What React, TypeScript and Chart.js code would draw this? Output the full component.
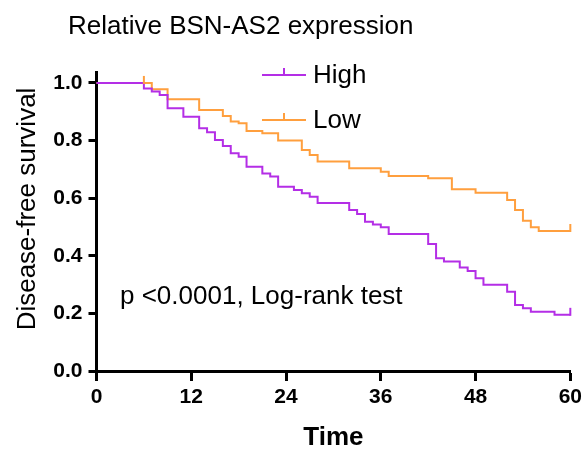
import { useEffect, useRef } from 'react';
import { Chart, registerables } from 'chart.js';

Chart.register(...registerables);

const chartTitle = 'Relative BSN-AS2 expression';
const xTitle = 'Time';
const yTitle = 'Disease-free survival';
const annotation = 'p <0.0001, Log-rank test';
const seriesNames = ['High', 'Low'];
const xTicks = [0, 12, 24, 36, 48, 60];
const yTicks = [0, 0.2, 0.4, 0.6, 0.8, 1.0];

const highTimes = [0, 6, 7, 8, 9, 11, 13, 14, 15, 16, 17, 18, 19, 21, 22, 23, 25, 26, 27, 28, 32, 33, 34, 35, 36, 37, 42, 43, 44, 46, 47, 48, 49, 52, 53, 54, 55, 58, 60];
const highSurv = [1, 0.981, 0.97, 0.958, 0.912, 0.883, 0.843, 0.829, 0.802, 0.781, 0.756, 0.744, 0.709, 0.686, 0.675, 0.64, 0.628, 0.617, 0.605, 0.583, 0.559, 0.545, 0.518, 0.509, 0.499, 0.476, 0.441, 0.391, 0.38, 0.359, 0.347, 0.322, 0.299, 0.275, 0.229, 0.218, 0.206, 0.195, 0.195];
const highCensor = [60];

const lowTimes = [0, 7, 9, 13, 16, 17, 18, 19, 21, 23, 26, 27, 28, 32, 36, 37, 42, 45, 48, 52, 53, 54, 55, 56, 60];
const lowSurv = [1, 0.978, 0.943, 0.906, 0.885, 0.866, 0.86, 0.833, 0.825, 0.8, 0.767, 0.75, 0.727, 0.704, 0.692, 0.677, 0.669, 0.631, 0.619, 0.594, 0.559, 0.522, 0.499, 0.486, 0.486];
const lowCensor = [6, 60];

const highColor = '#B42EE6';
const lowColor = '#FF9F3E';
const FONT = "'Liberation Sans', Arial, sans-serif";

function survAt(times: number[], surv: number[], t: number) {
  let v = surv[0];
  for (let i = 0; i < times.length; i++) {
    if (times[i] <= t) v = surv[i];
  }
  return v;
}

const overlayPlugin = {
  id: 'overlay',
  afterDatasetsDraw(chart: any) {
    const ctx = chart.ctx as CanvasRenderingContext2D;
    const xs = chart.scales.x;
    const ys = chart.scales.y;
    ctx.save();
    const drawCensor = (times: number[], surv: number[], cens: number[], color: string) => {
      ctx.strokeStyle = color;
      ctx.lineWidth = 2;
      cens.forEach((t) => {
        const px = xs.getPixelForValue(t);
        const py = ys.getPixelForValue(survAt(times, surv, t));
        ctx.beginPath();
        ctx.moveTo(px, py + 1);
        ctx.lineTo(px, py - 7);
        ctx.stroke();
      });
    };
    drawCensor(highTimes, highSurv, highCensor, highColor);
    drawCensor(lowTimes, lowSurv, lowCensor, lowColor);

    const legendItems = [
      { name: seriesNames[0], color: highColor, y: 75 },
      { name: seriesNames[1], color: lowColor, y: 120 },
    ];
    legendItems.forEach((it) => {
      ctx.strokeStyle = it.color;
      ctx.lineWidth = 2;
      ctx.beginPath();
      ctx.moveTo(262, it.y);
      ctx.lineTo(306, it.y);
      ctx.moveTo(284, it.y);
      ctx.lineTo(284, it.y - 7);
      ctx.stroke();
      ctx.fillStyle = '#000';
      ctx.font = `26px ${FONT}`;
      ctx.textAlign = 'left';
      ctx.textBaseline = 'middle';
      ctx.fillText(it.name, 313, it.y + 1);
    });

    ctx.fillStyle = '#000';
    ctx.font = `26px ${FONT}`;
    ctx.textAlign = 'left';
    ctx.textBaseline = 'middle';
    ctx.fillText(annotation, 120, 297);

    ctx.fillText(chartTitle, 68, 27);

    ctx.font = `bold 26px ${FONT}`;
    ctx.textAlign = 'center';
    ctx.fillText(xTitle, (chart.chartArea.left + chart.chartArea.right) / 2, 438);

    ctx.font = `26px ${FONT}`;
    ctx.translate(28, 209);
    ctx.rotate(-Math.PI / 2);
    ctx.fillText(yTitle, 0, 0);
    ctx.restore();
  },
};

export default function App() {
  const ref = useRef<HTMLCanvasElement | null>(null);
  useEffect(() => {
    if (!ref.current) return;
    const chart = new Chart(ref.current, {
      type: 'line',
      data: {
        datasets: [
          {
            label: seriesNames[0],
            data: highTimes.map((t, i) => ({ x: t, y: highSurv[i] })),
            borderColor: highColor,
            borderWidth: 2,
            stepped: 'before',
            pointRadius: 0,
            fill: false,
            clip: false,
          },
          {
            label: seriesNames[1],
            data: lowTimes.map((t, i) => ({ x: t, y: lowSurv[i] })),
            borderColor: lowColor,
            borderWidth: 2,
            stepped: 'before',
            pointRadius: 0,
            fill: false,
            clip: false,
          },
        ],
      },
      options: {
        animation: false,
        responsive: false,
        maintainAspectRatio: false,
        layout: { padding: { left: 0, right: 13, top: 72, bottom: 0 } },
        plugins: {
          legend: { display: false },
          tooltip: { enabled: false },
          title: { display: false },
        },
        scales: {
          x: {
            type: 'linear',
            min: 0,
            max: 60,
            afterBuildTicks: (s: any) => {
              s.ticks = xTicks.map((v) => ({ value: v }));
            },
            afterFit: (s: any) => {
              s.height = 79;
            },
            grid: { drawOnChartArea: false, tickLength: 10, tickWidth: 3, color: '#000' },
            border: { width: 3, color: '#000' },
            ticks: {
              color: '#000',
              font: { family: FONT, size: 21, weight: 'bold' },
              padding: 4,
              maxRotation: 0,
              autoSkip: false,
            },
          },
          y: {
            type: 'linear',
            min: 0,
            max: 1.038,
            afterBuildTicks: (s: any) => {
              s.ticks = yTicks.map((v) => ({ value: v }));
            },
            afterFit: (s: any) => {
              s.width = 96.5;
            },
            grid: { drawOnChartArea: false, tickLength: 8, tickWidth: 3, color: '#000' },
            border: { width: 3, color: '#000' },
            ticks: {
              color: '#000',
              font: { family: FONT, size: 21, weight: 'bold' },
              padding: 6,
              callback: (v: any) => Number(v).toFixed(1),
            },
          },
        },
      },
      plugins: [overlayPlugin],
    } as any);
    return () => chart.destroy();
  }, []);
  return (
    <div style={{ position: 'absolute', left: 0, top: 0, width: 586, height: 450, background: '#fff' }}>
      <canvas ref={ref} width={586} height={450} style={{ display: 'block', width: 586, height: 450 }} />
    </div>
  );
}
